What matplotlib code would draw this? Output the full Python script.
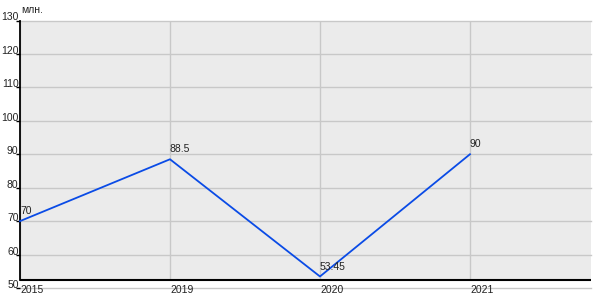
import matplotlib
matplotlib.use("Agg")
from matplotlib import pyplot as plt

years = ["2015", "2019", "2020", "2021"]
values = [70, 88.5, 53.45, 90]
value_labels = ["70", "88.5", "53.45", "90"]
y_ticks = [50, 60, 70, 80, 90, 100, 110, 120, 130]
unit_label = "млн."

plt.rcParams["font.family"] = ["Liberation Sans", "DejaVu Sans"]
plt.rcParams["font.size"] = 7.5

LINE_COLOR = "#0a4be6"
GRID_COLOR = "#c8c8c8"
AREA_COLOR = "#ebebeb"
AXIS_FLOOR = 52.4  # black x axis sits a bit above the lowest gridline


def main() -> None:
    fig = plt.figure(figsize=(6, 3), dpi=100)
    ax = fig.add_axes([20 / 600, 1 - 288 / 300, 571 / 600, 267.5 / 300])
    ax.set_facecolor("white")

    x = list(range(len(years)))
    ax.set_xlim(0, 3.807)
    ax.set_ylim(50, 130)

    # gray plot area above the axis line
    ax.axhspan(AXIS_FLOOR, 130, color=AREA_COLOR, zorder=0, lw=0)

    # gridlines
    for t in y_ticks:
        ax.axhline(t, color=GRID_COLOR, lw=1, zorder=1, clip_on=False)
    ax.vlines(x, AXIS_FLOOR, 130, color=GRID_COLOR, lw=1, zorder=1)
    ax.axhline(AXIS_FLOOR, color="black", lw=1.5, zorder=3)

    ax.plot(x, values, color=LINE_COLOR, lw=1.3, zorder=4, clip_on=False)

    for xi, v, lab in zip(x, values, value_labels):
        ax.annotate(lab, (xi, v), xytext=(0, 5), textcoords="offset points",
                    ha="left", va="baseline", color="#222222", zorder=5)

    for side in ["top", "right", "bottom"]:
        ax.spines[side].set_visible(False)
    ax.spines["left"].set_color("black")
    ax.spines["left"].set_linewidth(1.3)
    ax.spines["left"].set_bounds(AXIS_FLOOR, 130)
    ax.spines["left"].set_zorder(3)

    ax.set_yticks(y_ticks)
    ax.set_yticklabels([str(t) for t in y_ticks])
    ax.tick_params(axis="y", length=3, width=1, color="black", pad=-2,
                   labelcolor="#222222")
    for t in ax.get_yticklabels():
        t.set_verticalalignment("baseline")

    ax.set_xticks(x)
    ax.set_xticklabels(years)
    ax.tick_params(axis="x", length=0, pad=-2.5, labelcolor="#222222")
    for t in ax.get_xticklabels():
        t.set_horizontalalignment("left")

    ax.annotate(unit_label, (0, 1), xycoords="axes fraction", xytext=(1, 4),
                textcoords="offset points", ha="left", va="bottom",
                color="#222222")

    fig.savefig("out.png", dpi=100)


if __name__ == "__main__":
    main()
